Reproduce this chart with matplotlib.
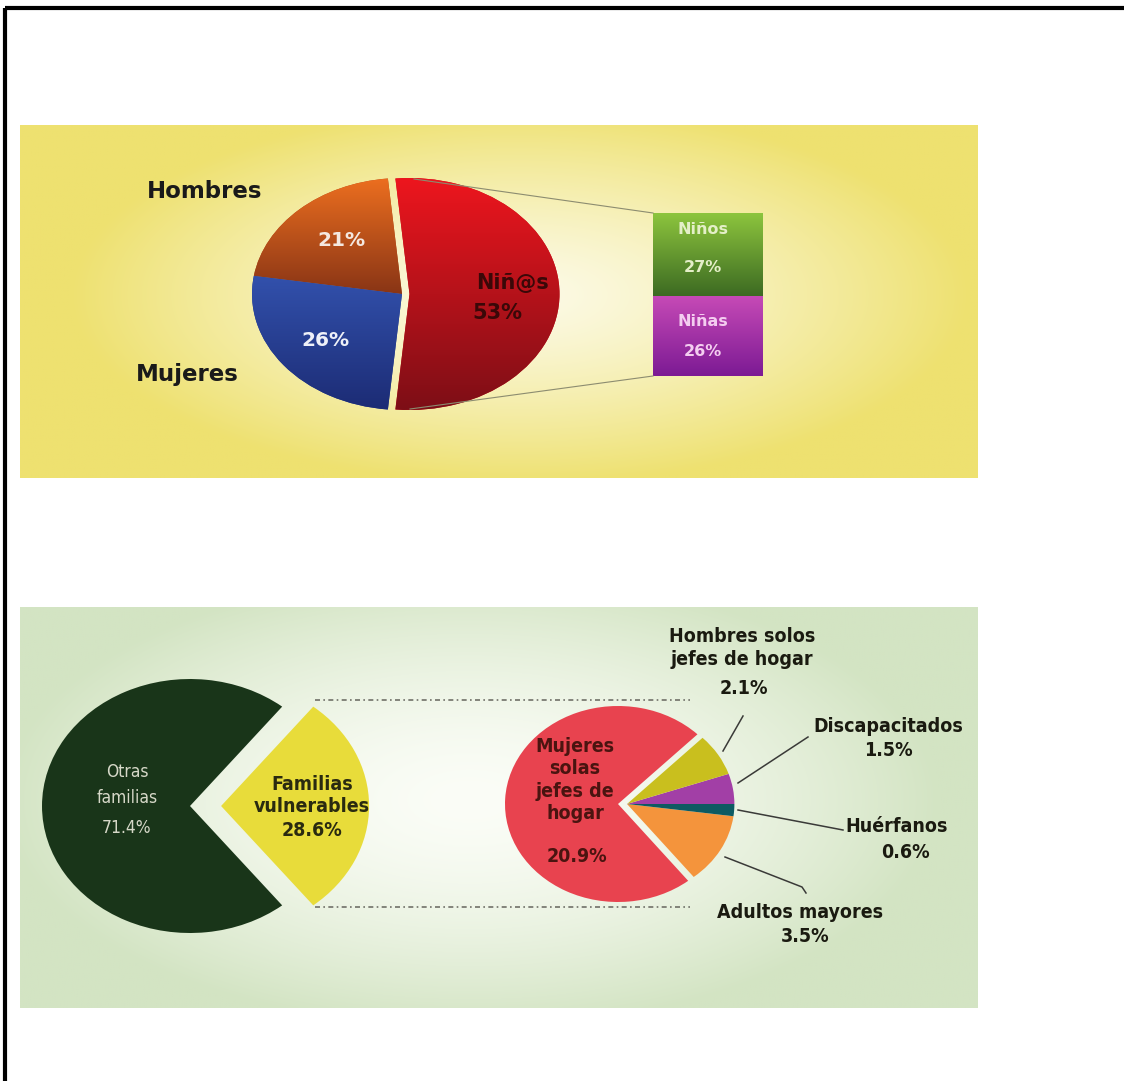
import numpy as np
import matplotlib
matplotlib.use('Agg')
import matplotlib.pyplot as plt
from matplotlib.colors import to_rgb

W, H = 1124, 1081

# --- data -------------------------------------------------------------
genero = ['Niñ@s', 'Hombres', 'Mujeres']
genero_pct = [53, 21, 26]
ninos = ['Niñas', 'Niños']
ninos_pct = [26, 27]

familias = ['Familias\nvulnerables', 'Otras\nfamilias']
familias_pct = [28.6, 71.4]

vulnerables = ['Adultos mayores', 'Huérfanos', 'Discapacitados',
               'Hombres solos\njefes de hogar', 'Mujeres\nsolas\njefes de\nhogar']
vulnerables_pct = [3.5, 0.6, 1.5, 2.1, 20.9]

BOLD = dict(family='DejaVu Sans', weight='bold')
COND = dict(family='DejaVu Sans', stretch='condensed', weight='bold')

fig = plt.figure(figsize=(W / 100, H / 100), dpi=100)
fig.patch.set_facecolor('white')

bg = fig.add_axes([0, 0, 1, 1])
bg.set_xlim(0, W)
bg.set_ylim(H, 0)
bg.axis('off')


def panel(x0, x1, y0, y1, edge, center, cx, cy, sx, sy, p=1.6):
    xs = np.linspace(x0, x1, 400)
    ys = np.linspace(y0, y1, 200)
    X, Y = np.meshgrid(xs, ys)
    d = np.clip(np.sqrt(((X - cx) / sx) ** 2 + ((Y - cy) / sy) ** 2), 0, 1)
    t = d ** p
    img = (1 - t)[..., None] * np.array(to_rgb(center)) + t[..., None] * np.array(to_rgb(edge))
    bg.imshow(img, extent=(x0, x1, y1, y0), origin='upper', aspect='auto',
              interpolation='bilinear', zorder=0)


panel(20, 978, 125, 478, '#eee170', '#fcfae6', 520, 295, 450, 190, 1.3)
panel(20, 978, 607, 1008, '#d3e4c3', '#fbfdf7', 470, 800, 470, 230)
bg.set_xlim(0, W)
bg.set_ylim(H, 0)

# frame (top and left only)
bg.plot([5, 5], [8, H], color='black', lw=3, solid_capstyle='butt')
bg.plot([5, W], [8, 8], color='black', lw=3, solid_capstyle='butt')


def pie_axes(cx, cy, rx, ry, pad=1.3):
    ax = fig.add_axes([(cx - pad * rx) / W, 1 - (cy + pad * ry) / H,
                       2 * pad * rx / W, 2 * pad * ry / H])
    ax.patch.set_visible(False)
    return ax


def fix(ax, pad=1.3):
    ax.set_aspect('auto')
    ax.set_xlim(-pad, pad)
    ax.set_ylim(-pad, pad)
    ax.axis('off')


def grad_fill(ax, patch, top, bottom, ext):
    t = np.linspace(0, 1, 256)[:, None, None]
    c = (1 - t) * np.array(to_rgb(top)) + t * np.array(to_rgb(bottom))
    img = np.repeat(c, 2, axis=1)
    im = ax.imshow(img, extent=ext, origin='upper', aspect='auto',
                   interpolation='bilinear', zorder=patch.get_zorder() + 0.1)
    im.set_clip_path(patch)


# --- top pie ----------------------------------------------------------
ax1 = pie_axes(402, 294, 150, 116)
w1, _ = ax1.pie(genero_pct, startangle=-genero_pct[0] / 100 * 360 / 2,
                explode=[0.05, 0, 0], colors=['#c8141c', '#b04a1c', '#263e92'])
grad_fill(ax1, w1[0], '#f0161e', '#7a0e16', (-1.1, 1.1, -1.05, 1.05))
grad_fill(ax1, w1[1], '#f27220', '#7a2c14', (-1.1, 1.1, -0.15, 1.05))
grad_fill(ax1, w1[2], '#3352ae', '#1b2a72', (-1.1, 1.1, -1.05, 0.2))
fix(ax1)

# stacked box Niños / Niñas
axb = fig.add_axes([653 / W, 1 - 376 / H, 110 / W, 163 / H])
b1 = axb.bar(0, ninos_pct[0], width=1, color='#a030a8')
b2 = axb.bar(0, ninos_pct[1], bottom=ninos_pct[0], width=1, color='#60962e')
grad_fill(axb, b2[0], '#8ec63e', '#3c6a22', (-0.5, 0.5, ninos_pct[0], sum(ninos_pct)))
grad_fill(axb, b1[0], '#c64ab6', '#7c1a94', (-0.5, 0.5, 0, ninos_pct[0]))
axb.set_xlim(-0.5, 0.5)
axb.set_ylim(0, sum(ninos_pct))
axb.axis('off')

# --- bottom left pie --------------------------------------------------
ax2 = pie_axes(190, 806, 148, 127)
ax2.pie(familias_pct, startangle=-familias_pct[0] / 100 * 360 / 2,
        explode=[0.21, 0], colors=['#e8dc3a', '#193519'])
fix(ax2)

# --- bottom right pie -------------------------------------------------
ax3 = pie_axes(618, 804, 113, 98)
tot = sum(vulnerables_pct)
w3, _ = ax3.pie(vulnerables_pct, startangle=-sum(vulnerables_pct[:2]) / tot * 360,
                colors=['#f4943c', '#0d5a62', '#a23fa6', '#c9bf1e', '#e8434f'])
for w in w3[:4]:
    w.set_center((0.08, 0))
    w.set_radius(0.95)
fix(ax3)

# --- overlay: texts and lines ----------------------------------------
ov = fig.add_axes([0, 0, 1, 1], zorder=10)
ov.set_xlim(0, W)
ov.set_ylim(H, 0)
ov.axis('off')

# connector lines top
ov.plot([414, 653], [179, 213], color='#8c8c70', lw=0.8)
ov.plot([410, 653], [409, 376], color='#8c8c70', lw=0.8)

ov.text(205, 191, genero[1], ha='center', va='center', fontsize=16.5, color='#1a1a1a', **BOLD)
ov.text(187, 375, genero[2], ha='center', va='center', fontsize=16.5, color='#1a1a1a', **BOLD)
ov.text(341, 241, f'{genero_pct[1]}%', ha='center', va='center', fontsize=14.5, color='#f4e8e0', **BOLD)
ov.text(325, 340, f'{genero_pct[2]}%', ha='center', va='center', fontsize=14.5, color='#eef0f8', **BOLD)
ov.text(512, 283, genero[0], ha='center', va='center', fontsize=15, color='#3a0808', **BOLD)
ov.text(497, 313, f'{genero_pct[0]}%', ha='center', va='center', fontsize=15, color='#3a0808', **BOLD)

ov.text(703, 230, ninos[1], ha='center', va='center', fontsize=11.5, color='#e4efc8', **BOLD)
ov.text(703, 268, f'{ninos_pct[1]}%', ha='center', va='center', fontsize=11.5, color='#e4efc8', **BOLD)
ov.text(703, 321, ninos[0], ha='center', va='center', fontsize=11.5, color='#f4cdf0', **BOLD)
ov.text(703, 352, f'{ninos_pct[0]}%', ha='center', va='center', fontsize=11.5, color='#f4cdf0', **BOLD)

# dash-dot guide lines bottom
ov.plot([315, 690], [700, 700], color='#707068', lw=1.2, ls=(0, (3, 2, 1, 2)))
ov.plot([315, 690], [907, 907], color='#707068', lw=1.2, ls=(0, (3, 2, 1, 2)))

ov.text(127, 785, familias[1], ha='center', va='center', fontsize=12.5, color='#d6d8c8',
        linespacing=1.55, family='DejaVu Sans', stretch='condensed')
ov.text(127, 828, f'{familias_pct[1]}%', ha='center', va='center', fontsize=12.5, color='#d6d8c8',
        family='DejaVu Sans', stretch='condensed')
ov.text(312, 795, familias[0], ha='center', va='center', fontsize=14, color='#2a2a10',
        linespacing=1.2, **COND)
ov.text(312, 830, f'{familias_pct[0]}%', ha='center', va='center', fontsize=14, color='#2a2a10', **COND)

ov.text(575, 780, vulnerables[4], ha='center', va='center', fontsize=14, color='#4a1410',
        linespacing=1.22, **COND)
ov.text(577, 856, f'{vulnerables_pct[4]}%', ha='center', va='center', fontsize=14, color='#4a1410', **COND)

ov.text(742, 648, vulnerables[3], ha='center', va='center', fontsize=14, color='#1a1a10',
        linespacing=1.3, **COND)
ov.text(744, 689, f'{vulnerables_pct[3]}%', ha='center', va='center', fontsize=14, color='#1a1a10', **COND)
ov.text(888, 727, vulnerables[2], ha='center', va='center', fontsize=14, color='#1a1a10', **COND)
ov.text(888, 750, f'{vulnerables_pct[2]}%', ha='center', va='center', fontsize=14, color='#1a1a10', **COND)
ov.text(897, 827, vulnerables[1], ha='center', va='center', fontsize=14, color='#1a1a10', **COND)
ov.text(905, 852, f'{vulnerables_pct[1]}%', ha='center', va='center', fontsize=14, color='#1a1a10', **COND)
ov.text(800, 913, vulnerables[0], ha='center', va='center', fontsize=14, color='#1a1a10', **COND)
ov.text(805, 937, f'{vulnerables_pct[0]}%', ha='center', va='center', fontsize=14, color='#1a1a10', **COND)

# leader lines
lc = dict(color='#3a3a38', lw=1.1)
ov.plot([723, 743], [751, 716], **lc)
ov.plot([738, 808], [783, 737], **lc)
ov.plot([738, 843], [810, 830], **lc)
ov.plot([725, 802, 806], [857, 887, 893], **lc)

fig.savefig('out.png', dpi=100)
